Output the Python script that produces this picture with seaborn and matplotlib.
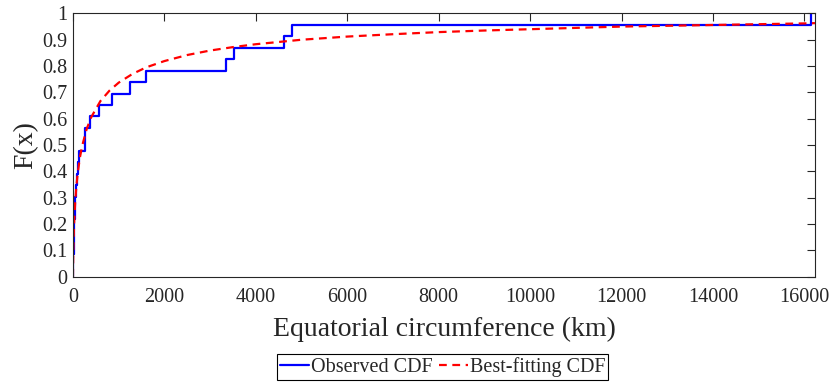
import numpy as np
import pandas as pd
import matplotlib
matplotlib.use('Agg')
import matplotlib.pyplot as plt
import seaborn as sns
from matplotlib.ticker import FuncFormatter

# observed equatorial circumferences (km), 23 bodies
observed_km = [3, 8, 14, 22, 30, 40, 52, 66, 82, 100, 122, 262, 270, 380,
               578, 850, 1245, 1590, 3345, 3530, 4620, 4790, 16140]

# best-fitting CDF, points
fit_x = [0, 1, 2, 5, 10, 20, 30, 50, 75, 100, 150, 200, 300, 400, 600, 800,
         1000, 1300, 1600, 2000, 2500, 3000, 3500, 4000, 5000, 6000, 7000,
         8000, 9000, 10000, 11000, 12000, 13000, 14000, 15000, 16000, 16230]
fit_F = [0.0, 0.017, 0.032, 0.069, 0.114, 0.176, 0.221, 0.287, 0.344, 0.387,
         0.451, 0.496, 0.561, 0.606, 0.667, 0.707, 0.737, 0.770, 0.795, 0.819,
         0.842, 0.859, 0.872, 0.883, 0.900, 0.912, 0.921, 0.929, 0.935, 0.940,
         0.945, 0.950, 0.953, 0.956, 0.959, 0.962, 0.963]

xticks = list(range(0, 16001, 2000))
yticks = [i / 10 for i in range(11)]

sns.set_style('white')
plt.rcParams['font.family'] = ['Liberation Serif', 'DejaVu Serif']
plt.rcParams['axes.edgecolor'] = '#262626'
plt.rcParams['xtick.color'] = '#262626'
plt.rcParams['ytick.color'] = '#262626'

fig = plt.figure(figsize=(8.31, 3.83), dpi=100)
ax = fig.add_axes([0.0878, 0.2775, 0.8929, 0.6875])

obs = pd.DataFrame({'km': observed_km})
fit = pd.DataFrame({'km': fit_x, 'F': fit_F})

sns.ecdfplot(data=obs, x='km', ax=ax, color='blue', lw=1.6,
             label='Observed CDF')
sns.lineplot(data=fit, x='km', y='F', ax=ax, color='red', lw=1.6,
             linestyle=(0, (3.5, 2.5)), label='Best-fitting CDF')

ax.set_xlim(0, 16230)
ax.set_ylim(0, 1)
ax.set_xticks(xticks)
ax.set_yticks(yticks)
ax.yaxis.set_major_formatter(FuncFormatter(lambda v, p: '%g' % v))
ax.tick_params(direction='in', length=5.5, width=0.8, labelsize=14.5,
               top=True, right=True, labelcolor='#262626')
ax.tick_params(axis='x', pad=8)
ax.tick_params(axis='y', pad=4)
for s in ax.spines.values():
    s.set_linewidth(0.8)

ax.set_xlabel('Equatorial circumference (km)', fontsize=20, labelpad=7,
              color='#262626')
ax.set_ylabel('F(x)', fontsize=20, labelpad=3, color='#262626')

if ax.get_legend():
    ax.get_legend().remove()
handles, labels = ax.get_legend_handles_labels()
leg = fig.legend(handles, labels, loc='center', bbox_to_anchor=(0.5325, 0.041),
                 ncol=2, fontsize=14.5, frameon=True, fancybox=False,
                 framealpha=1, edgecolor='black', handlelength=1.45,
                 handletextpad=0.1, columnspacing=0.3, borderpad=0.15,
                 borderaxespad=0)
leg.get_frame().set_linewidth(0.8)

fig.savefig('out.png', dpi=100)
